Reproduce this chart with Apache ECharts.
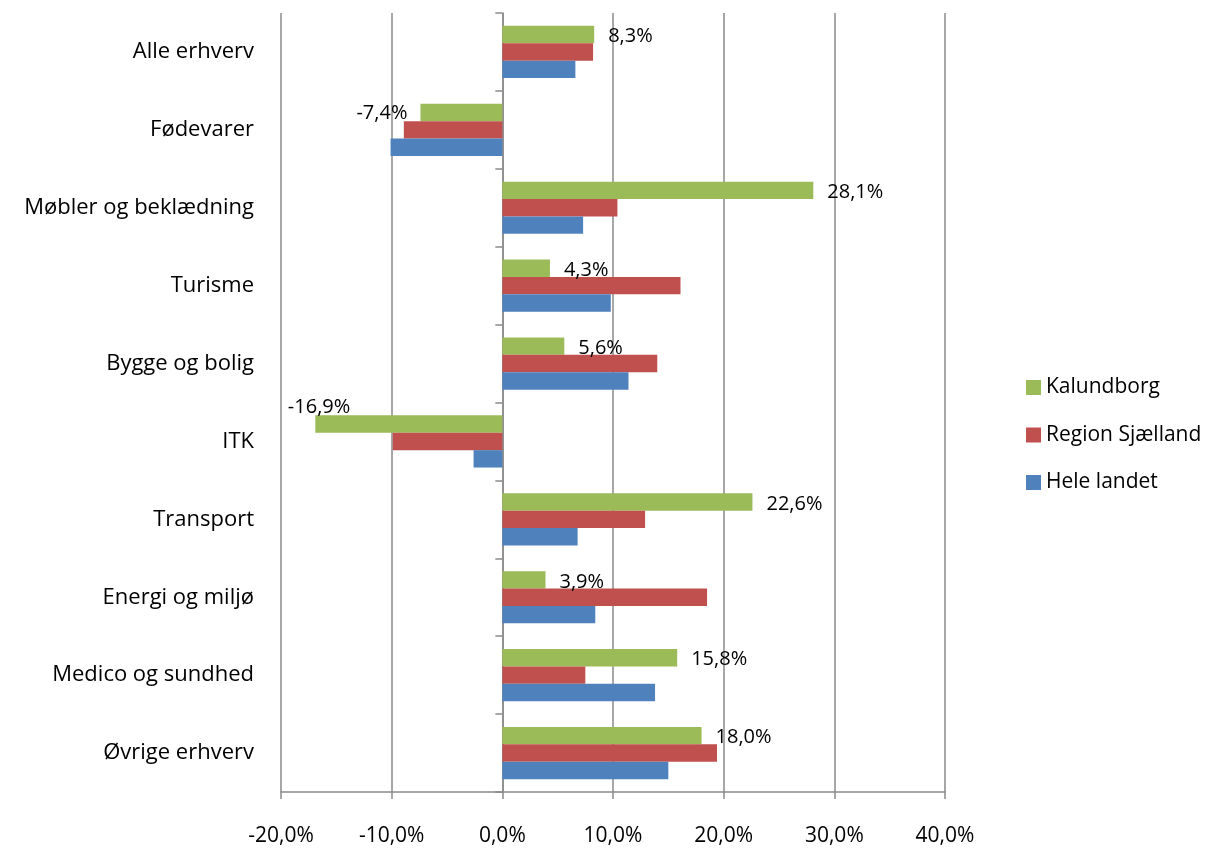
<!DOCTYPE html>
<html>
<head>
<meta charset="utf-8">
<script src="https://cdn.jsdelivr.net/npm/echarts@6/dist/echarts.min.js"></script>
<style>
  html, body { margin: 0; padding: 0; background: #fff; }
  #chart { width: 1221px; height: 848px; }
</style>
</head>
<body>
<div id="chart"></div>
<script>
const categories = ['Alle erhverv', 'Fødevarer', 'Møbler og beklædning', 'Turisme', 'Bygge og bolig', 'ITK', 'Transport', 'Energi og miljø', 'Medico og sundhed', 'Øvrige erhverv'];
const seriesNames = ['Kalundborg', 'Region Sjælland', 'Hele landet'];
const kalundborg = [8.3, -7.4, 28.1, 4.3, 5.6, -16.9, 22.6, 3.9, 15.8, 18.0];
const regionSjaelland = [8.2, -8.9, 10.4, 16.1, 14.0, -9.9, 12.9, 18.5, 7.5, 19.4];
const heleLandet = [6.6, -10.1, 7.3, 9.8, 11.4, -2.6, 6.8, 8.4, 13.8, 15.0];
const xTicks = { min: -20, max: 40, step: 10 };

const colors = ['#9BBB59', '#C0504D', '#4F81BD'];
const fmt = v => v.toFixed(1).replace('.', ',') + '%';
const gridColor = '#8a8a8a';

const kalData = kalundborg.map((v, i) => {
  let label;
  if (v >= 0) {
    label = { position: 'right', distance: 14, offset: [0, 2] };
  } else if (v < -15) {
    label = { position: 'left', distance: 13, offset: [48, -17] };
  } else {
    label = { position: 'left', distance: 13, offset: [0, 1] };
  }
  return { value: v, label };
});

const chart = echarts.init(document.getElementById('chart'), null, { renderer: 'canvas' });
chart.setOption({
  animation: false,
  backgroundColor: '#fff',
  textStyle: { fontFamily: 'Open Sans' },
  grid: { left: 281, right: 276, top: 13, bottom: 56, containLabel: false },
  legend: {
    orient: 'vertical',
    left: 1021,
    top: 372,
    itemWidth: 15,
    itemHeight: 15,
    itemGap: 26.5,
    data: seriesNames,
    icon: 'rect',
    textStyle: { fontSize: 21, color: '#000', fontFamily: 'Open Sans' }
  },
  xAxis: {
    type: 'value',
    min: xTicks.min,
    max: xTicks.max,
    interval: xTicks.step,
    axisLine: { show: true, lineStyle: { color: gridColor, width: 1.5 } },
    axisTick: { show: true, length: 7, lineStyle: { color: gridColor, width: 1.5 } },
    splitLine: { show: true, lineStyle: { color: gridColor, width: 1.5 } },
    axisLabel: {
      formatter: fmt,
      margin: 34,
      fontSize: 21,
      color: '#000',
      fontFamily: 'Open Sans'
    }
  },
  yAxis: [
    {
      type: 'category',
      data: categories,
      inverse: true,
      position: 'left',
      axisLine: { show: false, onZero: false },
      axisTick: { show: false },
      axisLabel: { margin: 27, fontSize: 22, color: '#000', fontFamily: 'Open Sans' }
    },
    {
      type: 'category',
      data: categories,
      inverse: true,
      position: 'left',
      axisLine: { show: true, onZero: true, lineStyle: { color: gridColor, width: 1.5 } },
      axisTick: { show: true, length: 7, lineStyle: { color: gridColor, width: 1.5 } },
      axisLabel: { show: false },
      splitLine: { show: false }
    }
  ],
  series: [
    {
      name: seriesNames[0], type: 'bar', yAxisIndex: 0, data: kalData,
      itemStyle: { color: colors[0] },
      barGap: '0%', barCategoryGap: '33%',
      label: { show: true, formatter: p => fmt(p.value), fontSize: 20, color: '#000', fontFamily: 'Open Sans' }
    },
    {
      name: seriesNames[1], type: 'bar', yAxisIndex: 0, data: regionSjaelland,
      itemStyle: { color: colors[1] },
      barGap: '0%', barCategoryGap: '33%'
    },
    {
      name: seriesNames[2], type: 'bar', yAxisIndex: 0, data: heleLandet,
      itemStyle: { color: colors[2] },
      barGap: '0%', barCategoryGap: '33%'
    }
  ]
});
</script>
</body>
</html>
